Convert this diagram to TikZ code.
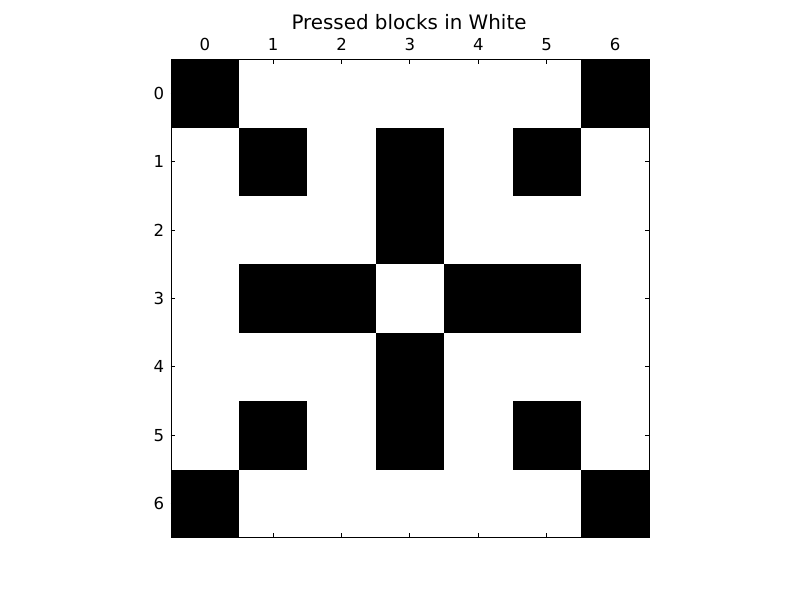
\documentclass[tikz,border=0pt]{standalone}
\usepackage{fontspec}
\setmainfont{DejaVu Sans}
\begin{document}
\begin{tikzpicture}[x=0.75pt,y=-0.75pt,
  cell/.style={fill=black,draw=none},
  tick/.style={line width=0.75pt,black},
  lab/.style={font=\fontsize{12.4}{14}\selectfont,inner sep=0pt}]
\useasboundingbox (0,0) rectangle (800,597);
\def\X{170.7}\def\Y{59.3}\def\S{68.37}
\foreach \r/\c in {0/0,0/6,1/1,1/3,1/5,2/3,3/1,3/2,3/4,3/5,4/3,5/1,5/3,5/5,6/0,6/6}{
  \fill[cell] ({\X+\c*\S},{\Y+\r*\S}) rectangle ({\X+(\c+1)*\S},{\Y+(\r+1)*\S});
}
\node[draw=black,line width=0.75pt,minimum width=478.6*0.75pt,minimum height=478*0.75pt,inner sep=0pt,anchor=north west] (ax) at (\X,\Y) {};
\foreach \i in {0,...,6}{
  \pgfmathsetmacro{\p}{\X+(\i+0.5)*\S}
  \pgfmathsetmacro{\q}{\Y+(\i+0.5)*\S}
  \draw[tick] (\p,59.3) -- ++(0,4.4);
  \draw[tick] (\p,537.3) -- ++(0,-4.4);
  \draw[tick] (170.7,\q) -- ++(4.4,0);
  \draw[tick] (649.3,\q) -- ++(-4.4,0);
  \node[lab,anchor=base] (t\i) at (\p,50) {\i};
  \node[lab,anchor=base east] (l\i) at (164.5,\q+6) {\i};
}
\node[font=\fontsize{14.9}{17}\selectfont,inner sep=0pt,anchor=base] (title) at (409,29.3) {Pressed blocks in White};
\end{tikzpicture}
\end{document}
